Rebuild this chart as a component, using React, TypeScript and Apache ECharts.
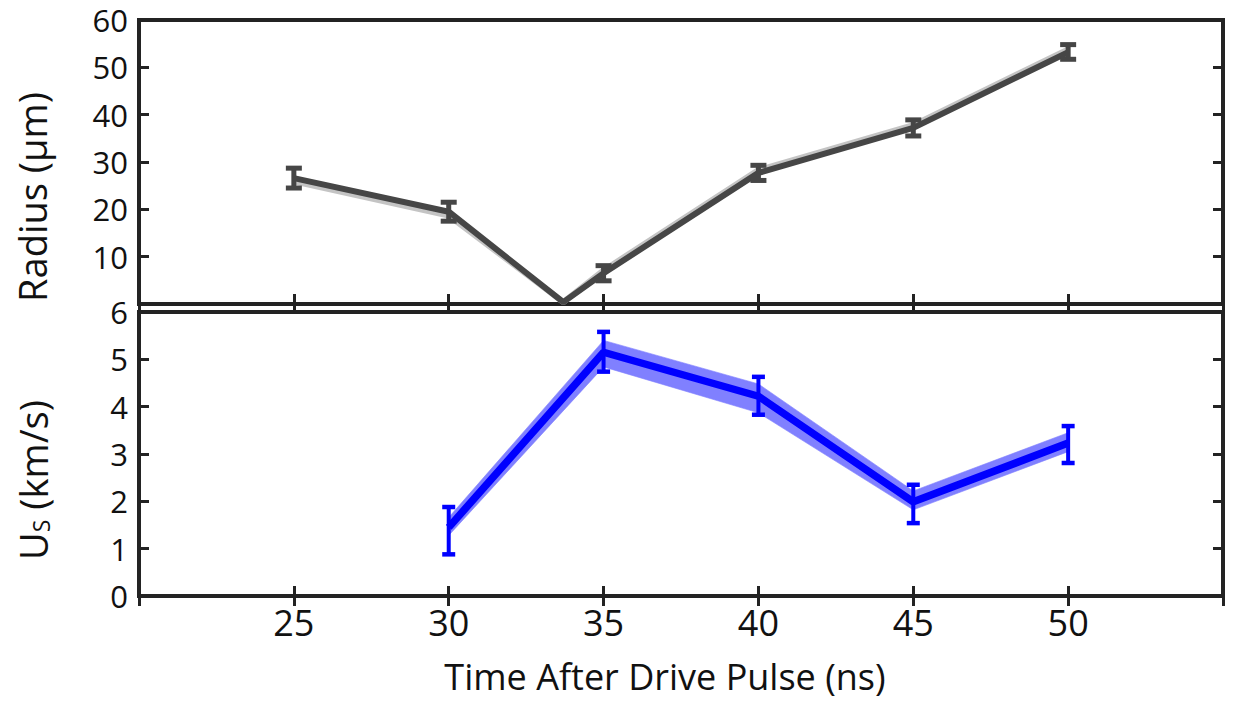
import React, { useEffect, useRef } from "react";
import * as echarts from "echarts";

// ---- data ----
const radiusX = [25, 30, 33.7, 35, 40, 45, 50];
const radiusY = [26.6, 19.5, 0.4, 6.5, 27.7, 37.2, 53.2];
const radiusShadowY = [25.9, 18.7, 0.4, 7.1, 28.3, 37.8, 53.8];
const radiusErrX = [25, 30, 35, 40, 45, 50];
const radiusErrLo = [24.5, 17.5, 4.9, 26.1, 35.5, 51.7];
const radiusErrHi = [28.7, 21.5, 8.1, 29.3, 38.9, 54.8];

const usX = [30, 35, 40, 45, 50];
const usY = [1.45, 5.15, 4.22, 1.99, 3.23];
const usBandLo = [1.28, 4.84, 3.87, 1.82, 3.05];
const usBandHi = [1.66, 5.4, 4.48, 2.22, 3.45];
const usErrLo = [0.88, 4.74, 3.83, 1.54, 2.81];
const usErrHi = [1.88, 5.58, 4.63, 2.35, 3.59];

const xTicks = { min: 20, max: 55, interval: 5 };
const radiusTicks = { min: 0, max: 60, interval: 10 };
const usTicks = { min: 0, max: 6, interval: 1 };

const FONT = "Open Sans";
const FRAME = "#232323";

export default function App() {
  const ref = useRef<HTMLDivElement>(null);
  useEffect(() => {
    document.body.style.margin = "0";
    if (!ref.current) return;
    const chart = echarts.init(ref.current, undefined, { renderer: "svg" });

    const tick = { show: true, inside: true, length: 10, lineStyle: { color: FRAME, width: 3 } };
    const mkX = (gridIndex: number, position: "top" | "bottom", labels: boolean) => ({
      type: "value",
      gridIndex,
      position,
      ...xTicks,
      axisLine: { show: false },
      axisTick: tick,
      splitLine: { show: false },
      axisLabel: labels
        ? {
            show: true,
            margin: 8,
            fontFamily: FONT,
            fontSize: 36,
            color: "#111",
            formatter: (v: number) => (v === 20 || v === 55 ? "" : String(v)),
          }
        : { show: false },
    });
    const mkY = (
      gridIndex: number,
      position: "left" | "right",
      ticks: any,
      labels: boolean
    ) => ({
      type: "value",
      gridIndex,
      position,
      ...ticks,
      axisLine: { show: false },
      axisTick: tick,
      splitLine: { show: false },
      axisLabel: labels
        ? {
            show: true,
            margin: 11,
            fontFamily: FONT,
            fontSize: 31,
            color: "#111",
            formatter: (v: number) => (ticks === radiusTicks && v === 0 ? "" : String(v)),
          }
        : { show: false },
    });

    const errRender = (color: string, half: number, w: number, capW: number) =>
      (params: any, api: any) => {
        const x = api.value(0);
        const lo = api.coord([x, api.value(1)]);
        const hi = api.coord([x, api.value(2)]);
        const style = { stroke: color, lineWidth: w };
        const capStyle = { stroke: color, lineWidth: capW };
        return {
          type: "group",
          children: [
            { type: "line", shape: { x1: lo[0], y1: lo[1], x2: hi[0], y2: hi[1] }, style },
            { type: "line", shape: { x1: lo[0] - half, y1: lo[1], x2: lo[0] + half, y2: lo[1] }, style: capStyle },
            { type: "line", shape: { x1: hi[0] - half, y1: hi[1], x2: hi[0] + half, y2: hi[1] }, style: capStyle },
          ],
        };
      };

    // band segments: [x0, lo0, hi0, x1, lo1, hi1]
    const bandSegments = usX.slice(0, -1).map((x, i) => [
      x, usBandLo[i], usBandHi[i], usX[i + 1], usBandLo[i + 1], usBandHi[i + 1],
    ]);

    const bandRender = (params: any, api: any) => {
      const a = api.coord([api.value(0), api.value(1)]);
      const b = api.coord([api.value(0), api.value(2)]);
      const c = api.coord([api.value(3), api.value(5)]);
      const d = api.coord([api.value(3), api.value(4)]);
      return {
        type: "polygon",
        shape: { points: [a, b, c, d] },
        style: { fill: "#8080ff", stroke: "#8080ff", lineWidth: 0.6 },
      };
    };

    const option: any = {
      animation: false,
      backgroundColor: "#fff",
      grid: [
        { left: 139, top: 20, width: 1084, height: 284, show: true, borderColor: FRAME, borderWidth: 4, backgroundColor: "transparent" },
        { left: 139, top: 312, width: 1084, height: 284, show: true, borderColor: FRAME, borderWidth: 4, backgroundColor: "transparent" },
      ],
      xAxis: [mkX(0, "bottom", false), mkX(0, "top", false), mkX(1, "bottom", true), mkX(1, "top", false)],
      yAxis: [
        mkY(0, "left", radiusTicks, true),
        mkY(0, "right", radiusTicks, false),
        mkY(1, "left", usTicks, true),
        mkY(1, "right", usTicks, false),
      ],
      graphic: [
        {
          type: "text",
          x: 32,
          y: 197,
          rotation: Math.PI / 2,
          style: { text: "Radius (μm)", font: `38px "${FONT}"`, fill: "#111", align: "center", verticalAlign: "middle" },
        },
        {
          type: "text",
          x: 32,
          y: 480,
          rotation: Math.PI / 2,
          style: {
            text: "{u|U}{s|S}{u| (km/s)}",
            align: "center",
            verticalAlign: "middle",
            rich: {
              u: { fontFamily: FONT, fontSize: 38, lineHeight: 40, fill: "#111", verticalAlign: "bottom" },
              s: { fontFamily: FONT, fontSize: 23, lineHeight: 26, fill: "#111", verticalAlign: "bottom" },
            },
          },
        },
        {
          type: "text",
          x: 665,
          y: 676,
          style: {
            text: "Time After Drive Pulse (ns)",
            font: `36px "${FONT}"`,
            fill: "#111",
            align: "center",
            verticalAlign: "middle",
          },
        },
      ],
      series: [
        {
          type: "line",
          xAxisIndex: 0,
          yAxisIndex: 0,
          data: radiusX.map((x, i) => [x, radiusShadowY[i]]),
          symbol: "none",
          lineStyle: { color: "#c4c4c4", width: 6 },
          z: 2,
        },
        {
          type: "line",
          xAxisIndex: 0,
          yAxisIndex: 0,
          data: radiusX.map((x, i) => [x, radiusY[i]]),
          symbol: "none",
          lineStyle: { color: "#464646", width: 6 },
          z: 3,
        },
        {
          type: "custom",
          xAxisIndex: 0,
          yAxisIndex: 0,
          data: radiusErrX.map((x, i) => [x, radiusErrLo[i], radiusErrHi[i]]),
          encode: { x: 0, y: [1, 2] },
          renderItem: errRender("#464646", 8, 5, 5),
          z: 4,
        },
        {
          type: "custom",
          xAxisIndex: 2,
          yAxisIndex: 2,
          data: bandSegments,
          encode: { x: [0, 3], y: [1, 2, 4, 5] },
          renderItem: bandRender,
          z: 2,
        },
        {
          type: "line",
          xAxisIndex: 2,
          yAxisIndex: 2,
          data: usX.map((x, i) => [x, usY[i]]),
          symbol: "none",
          lineStyle: { color: "#0000ff", width: 7.5 },
          z: 3,
        },
        {
          type: "custom",
          xAxisIndex: 2,
          yAxisIndex: 2,
          data: usX.map((x, i) => [x, usErrLo[i], usErrHi[i]]),
          encode: { x: 0, y: [1, 2] },
          renderItem: errRender("#0000ff", 6.5, 4, 4.5),
          z: 4,
        },
      ],
    };
    chart.setOption(option);
    return () => chart.dispose();
  }, []);
  return <div ref={ref} style={{ width: 1233, height: 702 }} />;
}
